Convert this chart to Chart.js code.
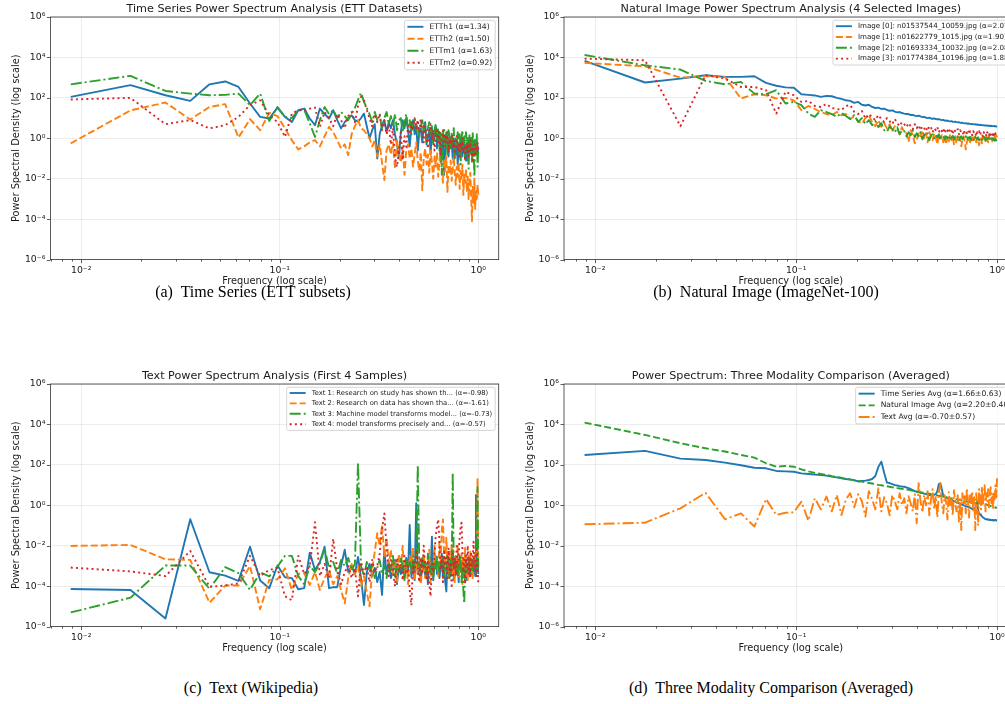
<!DOCTYPE html>
<html>
<head>
<meta charset="utf-8">
<script src="https://cdn.jsdelivr.net/npm/chart.js@4.4.1/dist/chart.umd.min.js"></script>
<style>
  body { margin: 0; width: 1005px; height: 704px; overflow: hidden; background: #fff; position: relative; }
  canvas { position: absolute; }
  .cap { position: absolute; font-family: "Liberation Serif", serif; font-size: 16px; line-height: 18px; color: #000; white-space: nowrap; transform: translateX(-50%); }
</style>
</head>
<body>
<canvas id="panel-a" width="505" height="300" style="left:0;top:0"></canvas>
<canvas id="panel-b" width="515" height="300" style="left:505px;top:0"></canvas>
<canvas id="panel-c" width="505" height="300" style="left:0;top:367px"></canvas>
<canvas id="panel-d" width="515" height="300" style="left:505px;top:367px"></canvas>
<div class="cap" style="left:253px;top:283px">(a)&nbsp; Time Series (ETT subsets)</div>
<div class="cap" style="left:766px;top:283px">(b)&nbsp; Natural Image (ImageNet-100)</div>
<div class="cap" style="left:251px;top:679px">(c)&nbsp; Text (Wikipedia)</div>
<div class="cap" style="left:771px;top:679px">(d)&nbsp; Three Modality Comparison (Averaged)</div>
<script>
// frequency bins k/113, k = 1..113 (normalised so the last bin is 1)
const nBins = 113;
const freqs = Array.from({ length: nBins }, (_, i) => (i + 1) / nBins);

// axis ticks
const xMajor = [0.01, 0.1, 1];
const xTickLabels = ['10⁻²', '10⁻¹', '10⁰'];
const xMinor = [0.007, 0.008, 0.009, 0.02, 0.03, 0.04, 0.05, 0.06, 0.07, 0.08, 0.09,
  0.2, 0.3, 0.4, 0.5, 0.6, 0.7, 0.8, 0.9];
const yTicks = [1e-6, 1e-4, 1e-2, 1, 1e2, 1e4, 1e6];
const yTickLabels = ['10⁻⁶', '10⁻⁴', '10⁻²', '10⁰', '10²', '10⁴', '10⁶'];

// all PSD series below are log10(power), one value per frequency bin

// ETT subsets
const etth1 = [
  2.05, 2.63, 2.13, 1.85, 2.67, 2.81, 2.54, 1.72, 1.06, 0.98,
  1.52, 1.06, 0.81, 1.39, 1.47, 0.98, 0.65, 1.47, 1.2, 0.98,
  1.39, 0.9, 0.49, 0.8, 1.0, 1.14, 0.9, 0.82, 1.0, 1.22,
  0.6, 0.0, 0.4, 0.7, -1.0, 0.2, 0.65, 0.9, 0.3, 0.8,
  0.5, 0.9, 0.2, -0.3, -1.0, 0.3, 0.9, 0.5, 1.0, 0.4,
  -0.4, 0.6, 0.9, 0.2, 0.7, -0.6, 0.3, 0.5, -0.2, 0.6,
  0.8, -0.3, 0.1, 0.4, -0.8, 0.5, -0.2, 0.2, 0.6, -0.5,
  0.0, 0.3, -1.2, -0.4, 0.1, -1.8, -0.6, 0.2, -0.3, -0.9,
  0.1, -0.5, -0.2, -1.0, 0.0, -0.4, -0.8, -0.2, -1.3, -0.3,
  -0.6, 0.0, -0.5, -0.9, -0.1, -0.7, -0.3, -1.1, -0.4, -0.2,
  -0.8, -0.5, 0.0, -0.6, -0.3, -0.9, -0.4, -0.1, -0.7, -0.5,
  -0.2, -0.8, -0.4
];
const etth2 = [
  -0.25, 1.38, 1.77, 0.93, 1.55, 1.69, 0.04, 0.95, 0.4, 1.26,
  1.1, 0.49, -0.1, -0.55, -0.4, -0.2, -0.09, -0.4, 0.1, 0.57,
  0.3, -0.1, -0.5, -0.3, -0.83, 0.2, 0.6, 0.9, 0.5, 0.4,
  0.2, 0.0, -0.4, -0.1, -0.9, -0.3, -1.2, -2.07, -0.6, -0.3,
  -0.8, -0.2, -1.5, -0.1, -0.7, -1.2, -0.4, -1.8, -0.6, -0.3,
  -1.0, -0.5, -1.4, -0.8, -0.2, -1.1, -1.6, -0.7, -2.57, -1.0,
  -0.5, -1.3, -0.8, -1.7, -0.6, -1.2, -2.0, -0.9, -1.4, -0.7,
  -1.9, -1.1, -0.8, -1.5, -2.2, -1.0, -1.6, -0.9, -2.65, -1.3,
  -1.8, -1.1, -2.1, -1.5, -0.9, -1.7, -2.3, -1.4, -1.9, -1.2,
  -2.5, -1.6, -2.0, -1.3, -2.8, -1.8, -2.2, -1.5, -2.6, -1.9,
  -3.0, -2.1, -1.7, -2.9, -4.1, -2.4, -3.2, -2.0, -3.5, -2.6,
  -3.0, -2.3, -2.8
];
const ettm1 = [
  2.67, 3.09, 2.34, 2.21, 2.13, 2.15, 2.21, 1.64, 2.21, 0.86,
  1.55, 1.06, 1.0, 1.39, 1.42, 0.73, 0.07, 0.9, 1.55, 1.2,
  1.39, 1.0, 1.3, 1.1, 0.9, 1.2, 1.5, 1.9, 2.25, 1.8,
  1.5, 1.2, 0.8, 1.3, 0.9, 1.1, 0.5, 1.0, 1.3, 0.7,
  1.1, 0.6, 1.2, 0.4, 0.9, 1.0, 0.3, 0.8, 1.2, 0.5,
  0.9, 0.2, 0.7, 1.0, 0.4, 0.8, 0.1, 0.6, 0.9, 0.3,
  0.7, -0.2, 0.5, 0.8, 0.2, 0.6, -0.3, 0.4, 0.7, 0.0,
  0.5, -0.6, 0.3, -1.8, 0.2, 0.5, -0.4, 0.3, -0.9, 0.4,
  0.0, -0.5, 0.3, -0.2, 0.5, -1.0, 0.1, -0.4, 0.3, -0.7,
  0.2, -1.3, 0.0, 0.4, -0.6, 0.1, -1.1, 0.3, -0.3, 0.0,
  -1.5, 0.2, -0.8, 0.1, -1.2, 0.3, -0.5, -1.9, 0.0, -0.9,
  0.2, -1.4, -0.6
];
const ettm2 = [
  1.92, 2.0, 0.7, 0.9, 0.49, 0.65, 1.06, 1.64, 1.88, 1.14,
  0.8, 0.07, 1.22, 1.39, 1.39, 1.47, 1.52, 0.57, 1.3, 1.0,
  0.6, 1.2, 0.9, 0.5, 1.1, 1.3, 0.8, 1.6, 2.05, 1.88,
  1.4, 1.0, 0.6, 1.2, 0.8, 1.22, 0.4, 0.9, 0.2, 0.7,
  -0.3, 0.5, -1.0, -1.41, -0.6, 0.3, -1.08, 0.1, -0.42, 0.6,
  0.2, 0.8, 0.4, 1.0, 0.5, 0.9, 0.3, 0.98, 0.4, -0.2,
  0.6, 0.1, -0.5, 0.3, 0.7, -0.1, 0.4, -0.6, 0.2, 0.5,
  -0.3, 0.3, -0.8, 0.1, 0.4, -0.4, 0.2, -0.2, 0.3, -0.7,
  0.0, -0.3, 0.2, -0.5, -0.1, -0.9, -0.2, 0.1, -0.6, -0.3,
  -1.0, -0.2, -0.5, 0.0, -0.7, -0.4, -1.1, -0.3, -0.6, -0.2,
  -0.9, -0.5, -0.1, -0.8, -0.4, -1.2, -0.6, -0.3, -0.9, -0.5,
  -0.7, -0.2, -0.6
];

// ImageNet images
const img0 = [
  3.83, 2.76, 2.95, 3.12, 3.04, 3.04, 3.07, 2.74, 2.6, 2.52,
  2.5, 2.18, 2.15, 2.12, 2.05, 2.1, 2.08, 2.0, 1.95, 1.88,
  1.85, 1.75, 1.8, 1.66, 1.62, 1.66, 1.55, 1.5, 1.52, 1.45,
  1.47, 1.4, 1.36, 1.38, 1.32, 1.28, 1.3, 1.25, 1.22, 1.2,
  1.2, 1.15, 1.16, 1.12, 1.1, 1.12, 1.08, 1.05, 1.06, 1.02,
  1.0, 1.02, 0.98, 0.97, 0.98, 0.95, 0.94, 0.95, 0.92, 0.9,
  0.91, 0.88, 0.87, 0.88, 0.85, 0.84, 0.85, 0.82, 0.81, 0.82,
  0.8, 0.79, 0.8, 0.77, 0.76, 0.77, 0.75, 0.74, 0.75, 0.73,
  0.72, 0.73, 0.71, 0.7, 0.71, 0.69, 0.69, 0.7, 0.68, 0.67,
  0.68, 0.66, 0.66, 0.67, 0.65, 0.64, 0.65, 0.63, 0.63, 0.64,
  0.62, 0.62, 0.63, 0.61, 0.61, 0.62, 0.6, 0.6, 0.61, 0.59,
  0.6, 0.58, 0.6
];
const img1 = [
  3.73, 3.56, 3.0, 3.07, 3.04, 1.97, 2.18, 2.13, 1.97, 2.0,
  1.88, 1.39, 1.6, 1.45, 1.3, 1.2, 1.14, 1.3, 1.14, 1.2,
  0.95, 1.1, 0.85, 0.73, 1.0, 1.14, 0.8, 0.6, 0.9, 0.57,
  0.75, 0.49, 0.7, 0.32, 0.6, 0.45, 0.2, 0.55, 0.3, 0.24,
  -0.18, 0.4, 0.15, -0.25, -0.1, 0.3, 0.1, 0.4, 0.0, 0.25,
  -0.2, 0.3, 0.1, -0.1, 0.25, 0.05, -0.3, 0.2, 0.0, 0.15,
  -0.2, 0.1, -0.3, 0.05, -0.15, 0.2, -0.1, 0.1, -0.3, 0.0,
  -0.26, 0.1, -0.1, 0.05, -0.4, -0.05, 0.1, -0.2, -0.55, -0.15,
  -0.1, 0.1, -0.2, 0.05, -0.1, 0.15, -0.05, 0.1, -0.2, 0.0,
  -0.1, -0.35, -0.05, 0.0, -0.25, 0.1, -0.1, 0.05, -0.15, 0.1,
  0.0, -0.2, 0.1, -0.05, 0.0, 0.1, -0.15, 0.05, 0.0, 0.1,
  -0.1, 0.15, 0.05
];
const img2 = [
  4.12, 3.61, 3.4, 2.84, 2.67, 2.79, 2.21, 2.18, 2.38, 1.72,
  1.8, 1.64, 1.22, 1.06, 1.39, 1.3, 1.2, 1.06, 1.25, 1.1,
  0.95, 1.15, 0.81, 1.0, 0.7, 0.9, 0.65, 0.85, 0.55, 0.75,
  0.4, 0.32, 0.6, 0.45, 0.3, 0.55, 0.2, 0.4, 0.35, 0.1,
  0.3, 0.16, 0.4, 0.05, 0.25, 0.1, 0.3, -0.05, 0.2, 0.1,
  0.25, -0.1, 0.15, 0.2, 0.0, 0.16, 0.05, 0.2, -0.1, 0.1,
  0.15, -0.05, 0.1, 0.0, 0.15, -0.1, 0.05, 0.12, -0.05, 0.1,
  0.0, 0.08, -0.1, 0.05, 0.1, -0.05, 0.05, 0.0, 0.1, -0.1,
  0.05, 0.0, 0.08, -0.08, 0.04, 0.0, -0.12, 0.06, 0.0, -0.05,
  0.05, -0.1, 0.0, 0.04, -0.08, 0.0, -0.05, 0.05, -0.1, 0.0,
  -0.06, 0.02, -0.1, 0.0, -0.05, -0.12, 0.0, -0.08, -0.02, -0.12,
  -0.05, -0.1, -0.09
];
const img3 = [
  3.94, 3.86, 0.6, 3.12, 2.96, 2.54, 2.54, 2.38, 1.22, 2.3,
  2.13, 1.8, 1.85, 1.6, 1.55, 1.7, 1.5, 1.45, 1.4, 1.6,
  1.64, 1.3, 1.2, 1.35, 0.98, 1.2, 1.05, 0.9, 1.15, 0.95,
  0.8, 1.0, 0.85, 0.7, 0.95, 0.75, 0.6, 0.8, 0.7, 0.55,
  0.75, 0.6, 0.45, 0.7, 0.5, 0.65, 0.4, 0.6, 0.5, 0.35,
  0.6, 0.45, 0.55, 0.3, 0.5, 0.4, 0.55, 0.3, 0.45, 0.35,
  0.5, 0.25, 0.45, 0.35, 0.5, 0.3, 0.4, 0.2, 0.45, 0.35,
  0.3, 0.45, 0.2, 0.4, 0.3, 0.35, 0.15, 0.4, 0.3, 0.25,
  0.4, 0.2, 0.35, 0.3, 0.15, 0.35, 0.25, 0.3, 0.1, 0.3,
  0.25, 0.35, 0.15, 0.3, 0.2, 0.1, 0.3, 0.2, 0.25, 0.1,
  0.3, 0.15, 0.2, 0.05, 0.25, 0.15, 0.2, 0.05, 0.2, 0.1,
  0.25, 0.15, 0.2
];

// Wikipedia text samples
const text1 = [
  -4.14, -4.19, -5.6, -0.69, -3.31, -3.48, -3.74, -2.05, -3.72, -4.1,
  -2.98, -3.56, -3.6, -4.15, -4.1, -2.34, -3.2, -2.8, -2.05, -4.1,
  -4.05, -4.05, -3.0, -2.2, -3.3, -3.0, -3.4, -2.55, -3.6, -4.93,
  -3.3, -2.9, -3.5, -3.1, -3.8, -3.3, -4.43, -2.2, -3.4, -2.8,
  -3.6, -3.2, -2.7, -3.9, -3.0, -3.4, -2.97, -3.6, -2.6, -3.3,
  -0.97, -3.55, -3.0, -3.7, 0.1, -3.4, -2.9, -3.6, -3.2, -2.8,
  -3.5, -3.1, -3.9, -2.6, -3.3, -1.55, -3.7, -3.0, -2.5, -3.4,
  -2.9, -3.6, -3.1, -2.4, -3.5, -3.0, -3.8, -4.26, -2.8, -3.3,
  -2.6, -3.5, -3.0, -2.2, -3.7, -3.2, -2.7, -3.4, -2.9, -3.8,
  -2.5, -3.3, -3.0, -3.6, -2.8, -3.4, -2.4, -3.1, -3.7, -2.9,
  -3.3, -2.6, -3.5, -3.0, -2.7, -3.4, -3.1, -2.8, -3.5, 0.51,
  -3.2, -2.9, -3.4
];
const text2 = [
  -2.01, -1.96, -2.67, -2.7, -4.82, -3.97, -3.97, -3.0, -5.14, -3.69,
  -3.66, -3.12, -4.19, -3.4, -3.36, -3.94, -3.3, -4.19, -3.6, -3.2,
  -3.9, -3.5, -4.2, -4.85, -3.6, -2.9, -3.4, -3.0, -4.0, -3.5,
  -4.3, -5.0, -3.2, -2.3, -1.38, -2.0, -0.97, -2.5, -1.6, -2.9,
  -2.2, -3.4, -2.7, -3.8, -2.4, -3.1, -2.0, -3.5, -2.8, -3.9,
  -2.5, -3.2, -2.1, -3.7, -2.9, -3.4, -2.6, -3.9, -3.1, -2.4,
  -3.6, -2.8, -3.3, -2.2, -3.8, -2.9, -3.4, -2.0, -3.1, -2.6,
  -3.5, -1.8, -2.9, -1.2, -0.7, -2.4, -3.2, -1.6, -2.8, -3.6,
  -2.3, -3.0, -1.9, -3.4, -2.7, -3.8, -2.5, -3.1, -2.0, -3.6,
  -2.8, -3.3, -2.4, -3.9, -2.6, -3.2, -2.1, -3.5, -2.9, -3.7,
  -2.5, -3.0, -2.3, -3.4, -2.8, -3.6, -2.6, -3.1, -2.4, -3.3,
  -2.0, 1.34, -3.0
];
const text3 = [
  -5.3, -4.57, -2.98, -2.98, -4.13, -3.06, -3.36, -4.18, -3.32, -3.52,
  -3.03, -2.5, -2.5, -3.5, -3.9, -3.0, -3.3, -2.87, -2.13, -3.1,
  -2.8, -3.4, -2.7, -3.0, -2.6, -3.2, -2.9, 2.11, -3.0, -3.5,
  -2.8, -3.3, -2.9, -3.6, -3.1, -2.7, -3.4, -3.0, -3.6, -2.8,
  -3.2, -2.5, -3.5, -2.9, -3.3, -2.6, -3.0, -3.7, -2.7, -3.2,
  -2.8, -3.4, -2.5, -3.1, -2.9, 2.0, -3.0, -3.4, -2.6, -3.1,
  -2.8, -3.5, -2.4, -3.0, -3.3, -2.7, -3.6, -2.9, -3.2, -2.5,
  -3.0, -3.4, -2.8, -3.1, -2.6, -3.5, -2.9, -3.2, -2.4, -3.0,
  -3.6, -2.7, -3.1, 1.61, -3.0, -2.6, -3.3, -2.8, -3.5, -2.9,
  -3.2, -2.5, -3.8, -3.0, -4.2, -4.85, -3.1, -2.7, -3.4, -2.9,
  -3.2, -2.6, -3.5, -3.0, -2.8, -3.3, -2.6, -3.1, -2.9, -3.4,
  -2.7, 0.9, -3.2
];
const text4 = [
  -3.08, -3.27, -3.5, -2.26, -4.03, -3.97, -3.86, -2.5, -3.5, -3.2,
  -3.1, -4.5, -4.7, -2.5, -3.4, -3.0, -0.84, -3.5, -2.9, -3.6,
  -1.66, -3.2, -3.9, -3.3, -3.0, -3.6, -3.1, -4.5, -2.8, -3.4,
  -3.0, -3.8, -2.7, -3.3, -3.0, -2.4, -1.2, -0.4, -2.1, -3.5,
  -2.7, -3.3, -4.0, -2.6, -3.2, -2.9, -3.7, -2.5, -3.4, -3.0,
  -4.2, -4.95, -2.8, -3.3, -2.2, -3.1, -3.8, -2.6, -3.4, -2.0,
  -3.0, -3.6, -2.7, -3.9, -4.5, -2.9, -3.3, -2.4, -1.5, -1.0,
  -0.7, -1.8, -3.2, -2.5, -3.8, -2.2, -3.0, -2.6, -3.6, -2.1,
  -3.3, -2.8, -4.1, -2.4, -3.1, -2.6, -3.5, -1.9, -3.0, -2.4,
  -1.6, -1.1, -0.86, -2.2, -3.3, -2.7, -3.9, -2.5, -3.1, -2.0,
  -3.4, -2.7, -3.6, -2.3, -3.0, -2.6, -1.8, -3.2, -2.5, -3.5,
  -2.2, -2.9, -3.9
];

// modality averages
const tsAvg = [
  2.49, 2.69, 2.31, 2.24, 2.11, 1.98, 1.86, 1.83, 1.7, 1.68,
  1.66, 1.58, 1.55, 1.52, 1.5, 1.47, 1.42, 1.38, 1.34, 1.3,
  1.28, 1.24, 1.18, 1.2, 1.22, 1.25, 1.3, 1.45, 1.9, 2.16,
  1.6, 1.12, 1.1, 1.05, 1.0, 0.98, 0.95, 0.93, 0.92, 0.88,
  0.85, 0.8, 0.75, 0.7, 0.67, 0.65, 0.62, 0.6, 0.58, 0.55,
  0.53, 0.51, 0.5, 0.5, 0.52, 0.55, 0.7, 1.05, 1.09, 0.8,
  0.45, 0.4, 0.38, 0.35, 0.32, 0.3, 0.27, 0.24, 0.2, 0.18,
  0.15, 0.12, 0.1, 0.08, 0.05, 0.03, 0.0, -0.02, -0.04, -0.06,
  -0.07, -0.1, -0.12, -0.15, -0.18, -0.2, -0.22, -0.1, 0.0, 0.18,
  -0.25, -0.4, -0.45, -0.5, -0.55, -0.6, -0.62, -0.66, -0.68, -0.7,
  -0.68, -0.72, -0.7, -0.73, -0.71, -0.74, -0.72, -0.75, -0.73, -0.74,
  -0.72, -0.75, -0.74
];
const imgAvg = [
  4.09, 3.48, 3.07, 2.82, 2.66, 2.49, 2.36, 2.08, 1.91, 1.95,
  1.91, 1.78, 1.68, 1.6, 1.55, 1.5, 1.44, 1.4, 1.36, 1.3,
  1.27, 1.24, 1.2, 1.17, 1.14, 1.1, 1.08, 1.04, 1.01, 0.99,
  0.96, 0.94, 0.92, 0.89, 0.87, 0.85, 0.83, 0.81, 0.8, 0.78,
  0.76, 0.74, 0.72, 0.7, 0.68, 0.66, 0.65, 0.63, 0.62, 0.6,
  0.58, 0.57, 0.55, 0.53, 0.52, 0.5, 0.49, 0.47, 0.46, 0.44,
  0.43, 0.41, 0.4, 0.38, 0.37, 0.35, 0.34, 0.33, 0.31, 0.3,
  0.29, 0.28, 0.27, 0.26, 0.25, 0.24, 0.22, 0.21, 0.2, 0.18,
  0.17, 0.16, 0.16, 0.15, 0.14, 0.14, 0.13, 0.12, 0.12, 0.11,
  0.1, 0.1, 0.09, 0.08, 0.08, 0.07, 0.06, 0.05, 0.04, 0.03,
  0.02, 0.0, -0.01, -0.03, -0.04, -0.05, -0.07, -0.08, -0.09, -0.1,
  -0.11, -0.12, -0.13
];
const textAvg = [
  -0.94, -0.86, -0.15, 0.62, -0.69, -0.4, -1.05, 0.31, -0.48, -0.37,
  -0.35, 0.18, -0.76, 0.35, -0.2, 0.43, -0.3, 0.51, -0.48, 0.3,
  0.6, -0.1, 0.55, 0.2, -0.56, 0.7, 0.3, -0.2, 0.84, -0.3,
  0.4, 0.1, -0.5, 0.5, 0.2, -0.2, 0.6, 0.0, 0.35, -0.4,
  0.45, 0.1, -0.3, 0.55, -0.89, 1.09, 0.2, -0.35, 0.5, 0.0,
  0.7, -0.5, 0.3, 0.8, -0.2, 0.45, -0.6, 0.6, 1.09, 0.1,
  -0.4, 0.5, 0.2, -0.7, 0.65, 0.0, 0.4, -0.5, 0.75, 0.1,
  -0.3, 0.5, -0.8, 0.3, -1.22, 0.6, 0.0, 0.45, -0.4, 0.85,
  0.2, -0.6, 0.5, 0.0, 0.7, -0.3, 0.4, -1.22, 0.6, 0.1,
  -1.0, 0.8, 0.3, -0.2, 0.9, 0.0, 0.5, 1.0, -0.3, 0.6,
  0.2, 0.8, -0.1, 0.5, 0.9, 0.1, 0.6, -0.2, 0.7, 0.3,
  1.0, 0.4, 1.34
];

// matplotlib tab10 colours and line styles
const C0 = '#1f77b4', C1 = '#ff7f0e', C2 = '#2ca02c', C3 = '#d62728';
const SOLID = [], DASHED = [7, 3], DASHDOT = [11, 3, 2, 3], DOTTED = [2, 3.2];

const gridColor = 'rgba(176,176,176,0.3)';
const textColor = '#1a1a1a';
const FONT = '"DejaVu Sans"';
const xMin = 0.00699, xMax = 1.267;

Chart.defaults.font.family = FONT;
Chart.defaults.color = textColor;

const panels = {
  'panel-a': {
    title: 'Time Series Power Spectrum Analysis (ETT Datasets)',
    legendFont: 7.6, legendRow: 12,
    series: [
      { label: 'ETTh1 (α=1.34)', values: etth1, color: C0, dash: SOLID },
      { label: 'ETTh2 (α=1.50)', values: etth2, color: C1, dash: DASHED },
      { label: 'ETTm1 (α=1.63)', values: ettm1, color: C2, dash: DASHDOT },
      { label: 'ETTm2 (α=0.92)', values: ettm2, color: C3, dash: DOTTED }
    ]
  },
  'panel-b': {
    title: 'Natural Image Power Spectrum Analysis (4 Selected Images)',
    legendFont: 7.1, legendRow: 10.8,
    series: [
      { label: 'Image [0]: n01537544_10059.jpg (α=2.07)', values: img0, color: C0, dash: SOLID },
      { label: 'Image [1]: n01622779_1015.jpg (α=1.90)', values: img1, color: C1, dash: DASHED },
      { label: 'Image [2]: n01693334_10032.jpg (α=2.08)', values: img2, color: C2, dash: DASHDOT },
      { label: 'Image [3]: n01774384_10196.jpg (α=1.88)', values: img3, color: C3, dash: DOTTED }
    ]
  },
  'panel-c': {
    title: 'Text Power Spectrum Analysis (First 4 Samples)',
    legendFont: 6.8, legendRow: 10.4,
    series: [
      { label: 'Text 1: Research on study has shown th... (α=-0.98)', values: text1, color: C0, dash: SOLID },
      { label: 'Text 2: Research on data has shown tha... (α=-1.61)', values: text2, color: C1, dash: DASHED },
      { label: 'Text 3: Machine model transforms model... (α=-0.73)', values: text3, color: C2, dash: DASHDOT },
      { label: 'Text 4: model transforms precisely and... (α=-0.57)', values: text4, color: C3, dash: DOTTED }
    ]
  },
  'panel-d': {
    title: 'Power Spectrum: Three Modality Comparison (Averaged)',
    legendFont: 7.6, legendRow: 11.7,
    series: [
      { label: 'Time Series Avg (α=1.66±0.63)', values: tsAvg, color: C0, dash: SOLID },
      { label: 'Natural Image Avg (α=2.20±0.40)', values: imgAvg, color: C2, dash: DASHED },
      { label: 'Text Avg (α=-0.70±0.57)', values: textAvg, color: C1, dash: DASHDOT }
    ]
  }
};

// frame, tick marks, titles and the in-axes legend
const panelPlugin = {
  id: 'panelDecor',
  afterDraw(chart) {
    const p = panels[chart.canvas.id];
    const ctx = chart.ctx;
    const a = chart.chartArea;
    const xs = chart.scales.x, ys = chart.scales.y;
    ctx.save();

    ctx.strokeStyle = '#333';
    ctx.lineWidth = 0.8;
    ctx.beginPath();
    xMinor.forEach(v => {
      const px = Math.round(xs.getPixelForValue(v)) + 0.5;
      ctx.moveTo(px, a.bottom); ctx.lineTo(px, a.bottom + 2);
    });
    xMajor.forEach(v => {
      const px = Math.round(xs.getPixelForValue(v)) + 0.5;
      ctx.moveTo(px, a.bottom); ctx.lineTo(px, a.bottom + 3.5);
    });
    yTicks.forEach(v => {
      const py = Math.round(ys.getPixelForValue(v)) + 0.5;
      ctx.moveTo(a.left - 3.5, py); ctx.lineTo(a.left, py);
    });
    ctx.stroke();
    ctx.strokeRect(a.left, a.top, a.right - a.left, a.bottom - a.top);

    // titles
    const cx = (a.left + a.right) / 2;
    ctx.fillStyle = textColor;
    ctx.textAlign = 'center';
    ctx.textBaseline = 'middle';
    ctx.font = '11.2px ' + FONT;
    ctx.fillText(p.title, cx, a.top - 8.4);
    ctx.font = '9.8px ' + FONT;
    ctx.fillText('Frequency (log scale)', cx, a.bottom + 22);
    ctx.save();
    ctx.translate(a.left - 34, (a.top + a.bottom) / 2);
    ctx.rotate(-Math.PI / 2);
    ctx.fillText('Power Spectral Density (log scale)', 0, 0);
    ctx.restore();

    // legend box in the upper right corner
    ctx.font = p.legendFont + 'px ' + FONT;
    const textW = Math.max(...p.series.map(s => ctx.measureText(s.label).width));
    const lineLen = 16, pad = 3, gap = 6;
    const boxW = pad + lineLen + gap + textW + pad;
    const boxH = p.series.length * p.legendRow + 1.5;
    const bx = a.right - 3.5 - boxW, by = a.top + 3.3;
    ctx.fillStyle = 'rgba(255,255,255,0.8)';
    ctx.strokeStyle = '#cccccc';
    ctx.lineWidth = 0.8;
    ctx.beginPath();
    ctx.roundRect(bx, by, boxW, boxH, 2);
    ctx.fill();
    ctx.stroke();
    ctx.textAlign = 'left';
    p.series.forEach((s, i) => {
      const ry = by + p.legendRow * (i + 0.5) + 0.5;
      ctx.strokeStyle = s.color;
      ctx.lineWidth = 1.9;
      ctx.setLineDash(s.dash);
      ctx.beginPath();
      ctx.moveTo(bx + pad, ry); ctx.lineTo(bx + pad + lineLen, ry);
      ctx.stroke();
      ctx.setLineDash([]);
      ctx.fillStyle = textColor;
      ctx.fillText(s.label, bx + pad + lineLen + gap, ry);
    });
    ctx.restore();
  }
};

function makePanel(id, padLeft, padRight) {
  const p = panels[id];
  const n = p.series.length;
  return new Chart(document.getElementById(id), {
    type: 'line',
    data: {
      datasets: p.series.map((s, i) => ({
        label: s.label,
        data: freqs.map((f, k) => ({ x: f, y: Math.pow(10, s.values[k]) })),
        borderColor: s.color,
        borderWidth: 1.9,
        borderDash: s.dash,
        borderJoinStyle: 'round',
        pointRadius: 0,
        tension: 0,
        fill: false,
        order: n - i
      }))
    },
    options: {
      responsive: false,
      animation: false,
      devicePixelRatio: 1,
      layout: { padding: { left: padLeft, right: padRight, top: 17, bottom: 10.4 } },
      plugins: { legend: { display: false }, tooltip: { enabled: false }, title: { display: false } },
      scales: {
        x: {
          type: 'logarithmic',
          bounds: 'data',
          min: xMin, max: xMax,
          afterBuildTicks: s => {
            s.ticks = xMinor.concat(xMajor).sort((u, v) => u - v)
              .map(v => ({ value: v, major: xMajor.includes(v) }));
          },
          afterFit: s => { s.height = 30; },
          grid: {
            drawTicks: false,
            lineWidth: 0.8,
            color: c => (c.tick && c.tick.major) ? gridColor : 'rgba(0,0,0,0)'
          },
          border: { display: false },
          ticks: {
            autoSkip: false, maxRotation: 0, padding: 5,
            font: { size: 9.3 },
            callback: v => {
              const j = xMajor.findIndex(m => Math.abs(m - v) < 1e-9);
              return j < 0 ? '' : xTickLabels[j];
            }
          }
        },
        y: {
          type: 'logarithmic',
          bounds: 'data',
          min: 1e-6, max: 1e6,
          afterBuildTicks: s => { s.ticks = yTicks.map(v => ({ value: v })); },
          afterFit: s => { s.width = 40; },
          grid: { drawTicks: false, lineWidth: 0.8, color: gridColor },
          border: { display: false },
          ticks: {
            autoSkip: false, padding: 5,
            font: { size: 9.3 },
            callback: (v, i) => yTickLabels[i]
          }
        }
      }
    },
    plugins: [panelPlugin]
  });
}

makePanel('panel-a', 10.4, 6.3);
makePanel('panel-b', 19, 2.3);
makePanel('panel-c', 10.4, 6.3);
makePanel('panel-d', 19, 2.3);
</script>
</body>
</html>
